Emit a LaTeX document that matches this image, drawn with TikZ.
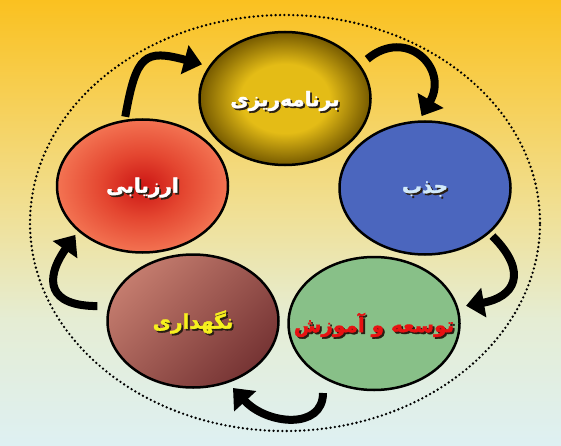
\documentclass[tikz,border=0pt]{standalone}
\usepackage{fontspec}
\newfontfamily\arabicfont[Script=Arabic,BoldFeatures={FakeBold=1.8}]{DejaVu Sans}
\TeXXeTstate=1
\usetikzlibrary{shapes.geometric,arrows.meta}
\definecolor{bgtop}{RGB}{250,193,32}
\definecolor{bgup}{RGB}{247,206,80}
\definecolor{bgmid}{RGB}{240,224,150}
\definecolor{bglow}{RGB}{229,237,212}
\definecolor{bgbot}{RGB}{222,240,242}
\definecolor{ycen}{RGB}{228,188,22}
\definecolor{yedge}{RGB}{118,90,0}
\definecolor{rcen}{RGB}{204,22,20}
\definecolor{rmid}{RGB}{228,70,48}
\definecolor{redge}{RGB}{243,115,82}
\definecolor{bluef}{RGB}{75,102,190}
\definecolor{greenf}{RGB}{136,192,136}
\definecolor{brlight}{RGB}{196,124,110}
\definecolor{brdark}{RGB}{118,52,52}
\definecolor{shadowc}{RGB}{40,30,20}
\definecolor{lblblue}{RGB}{210,234,250}
\definecolor{lblred}{RGB}{232,18,18}
\definecolor{lblyellow}{RGB}{246,240,30}
\pgfdeclareverticalshading{bgshade}{100bp}{color(0bp)=(bgbot); color(25bp)=(bgbot); color(39bp)=(bglow); color(51bp)=(bgmid); color(65bp)=(bgup); color(75bp)=(bgtop); color(100bp)=(bgtop)}
\pgfdeclareradialshading{yelshade}{\pgfpoint{0bp}{0bp}}{color(0bp)=(ycen); color(13bp)=(ycen); color(25bp)=(yedge); color(50bp)=(yedge)}
\pgfdeclareradialshading{redshade}{\pgfpoint{0bp}{0bp}}{color(0bp)=(rcen); color(12bp)=(rmid); color(25bp)=(redge); color(50bp)=(redge)}
\tikzset{
  cell/.style={ellipse, draw=black, line width=2.5pt, minimum width=171pt, minimum height=133pt, inner sep=0pt},
  lbl/.style={font=\arabicfont\bfseries\fontsize{20}{24}\selectfont, inner sep=0pt},
  shadowlbl/.style={lbl, text=shadowc},
  cyc/.style={draw=black, line width=8pt, -{Triangle[length=18pt,width=29pt]}},
  outerring/.style={draw=black, line width=2.6pt, line cap=round, dash pattern=on 0pt off 4.4pt}
}
\begin{document}
\begin{tikzpicture}[x=1pt,y=1pt]
\useasboundingbox (0,0) rectangle (561,445);
\shade[shading=bgshade] (0,0) rectangle (561,445);
\draw[outerring] (285,222) ellipse [x radius=255pt, y radius=208pt];
% cells
\node[cell, shade, shading=yelshade] (plan) at (285,346.5) {};
\node[cell, fill=bluef] (attr) at (425,257) {};
\node[cell, fill=greenf] (dev) at (374,121.5) {};
\node[cell, shade, top color=brlight, bottom color=brdark, shading angle=45] (keep) at (193,124) {};
\node[cell, shade, shading=redshade] (eval) at (142.5,259) {};
% labels
\node[shadowlbl] (planS) at ([shift={(1.8pt,-4.3pt)}]plan.center) {\beginR برنامه^^^^200cریزی\endR};
\node[lbl, text=white] (planT) at ([shift={(0pt,-2.5pt)}]plan.center) {\beginR برنامه^^^^200cریزی\endR};
\node[shadowlbl] (attrS) at ([shift={(1.8pt,-2.8pt)}]attr.center) {\beginR جذب\endR};
\node[lbl, text=lblblue] (attrT) at ([shift={(0pt,-1pt)}]attr.center) {\beginR جذب\endR};
\node[shadowlbl] (devS) at ([shift={(1.8pt,-3.3pt)}]dev.center) {\beginR توسعه و آموزش\endR};
\node[lbl, text=lblred] (devT) at ([shift={(0pt,-1.5pt)}]dev.center) {\beginR توسعه و آموزش\endR};
\node[shadowlbl] (keepS) at ([shift={(1.8pt,-2.8pt)}]keep.center) {\beginR نگهداری\endR};
\node[lbl, text=lblyellow] (keepT) at ([shift={(0pt,-1pt)}]keep.center) {\beginR نگهداری\endR};
\node[shadowlbl] (evalS) at ([shift={(1.8pt,-3.3pt)}]eval.center) {\beginR ارزیابی\endR};
\node[lbl, text=white] (evalT) at ([shift={(0pt,-1.5pt)}]eval.center) {\beginR ارزیابی\endR};
% cycle arrows
\coordinate (a4s) at ([shift={(-51pt,-69.5pt)}]dev.center);
\coordinate (a4e) at ([shift={(40pt,-67pt)}]keep.center);
\draw[cyc, shorten <=3pt, shorten >=7pt] (eval.105) to[out=80, in=165, looseness=1.7] (plan.157);
\draw[cyc, shorten <=9pt, shorten >=5pt] (plan.24) to[out=40, in=60, looseness=1.9] (attr.95);
\draw[cyc, shorten <=4pt, shorten >=8pt] (attr.-35) to[out=-45, in=10, looseness=1.8] (dev.11);
\draw[cyc] (a4s) .. controls +(0pt,-37pt) and +(34pt,-37pt) .. (a4e);
\draw[cyc, shorten <=11pt, shorten >=4.5pt] (keep.170.5) to[out=180, in=235, looseness=1.9] (eval.215);
\end{tikzpicture}
\end{document}
